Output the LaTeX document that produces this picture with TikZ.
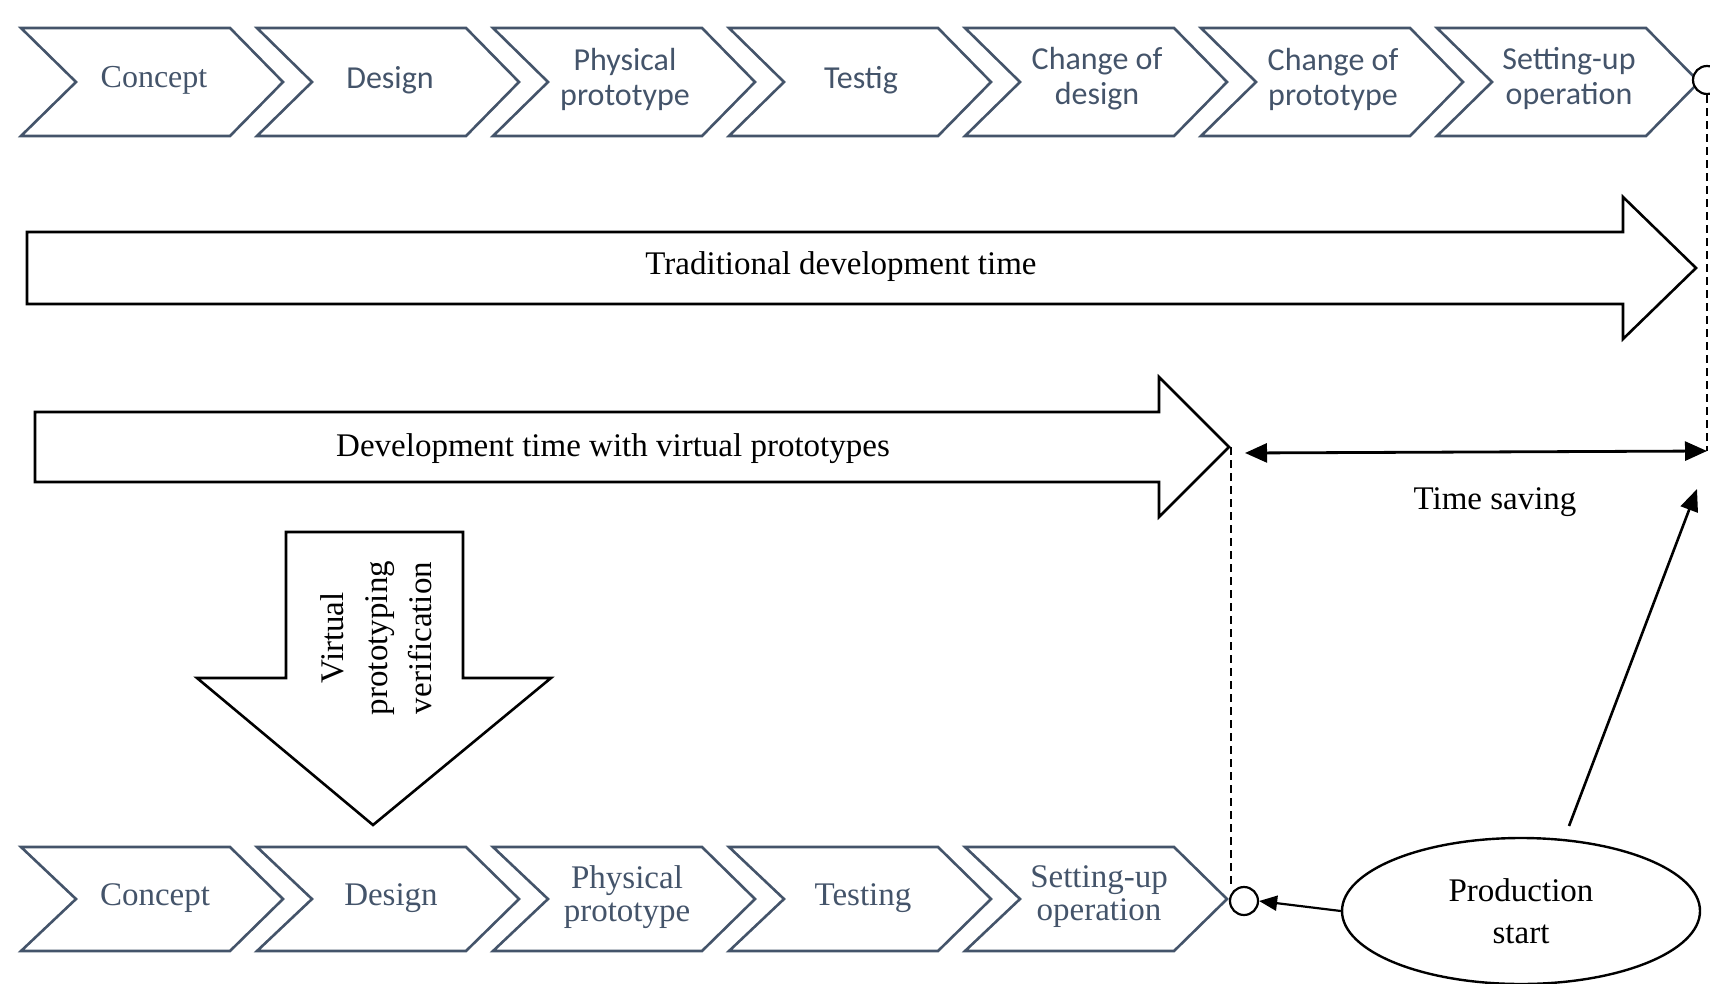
\documentclass[tikz,border=0pt]{standalone}
\usepackage{fontspec}
\setmainfont{Liberation Serif}
\newfontfamily\calib{Carlito}
\usetikzlibrary{arrows.meta,shapes.geometric}
\definecolor{slate}{RGB}{68,84,106}
\begin{document}
\begin{tikzpicture}[x=1pt,y=-1pt,
  chev/.style={draw=slate, line width=2.6pt, line join=miter},
  bigarrow/.style={draw=black, line width=2.6pt, fill=white, line join=miter},
  toplabel/.style={text=slate, font=\calib\fontsize{32}{35}\selectfont, align=center, inner sep=0},
  toplabelserif/.style={text=slate, font=\fontsize{32}{35}\selectfont, align=center, inner sep=0},
  botlabel/.style={text=slate, font=\fontsize{33}{33}\selectfont, align=center, inner sep=0},
  blabel/.style={text=black, font=\fontsize{33}{42}\selectfont, align=center, inner sep=0},
  dashline/.style={dash pattern=on 8pt off 5pt, line width=2.4pt},
  tiparrow/.style={-{Triangle[length=22pt,width=18pt]}, line width=2.6pt},
  endcircle/.style={circle, draw, line width=2.2pt, minimum size=28pt, inner sep=0pt, fill=white}
]
\useasboundingbox (0,0) rectangle (1710,984);

% ---------- top row of chevrons ----------
\foreach \i in {0,...,6}{
  \draw[chev] ({21+236*\i},28) -- ++(209,0) -- ++(53,54) -- ++(-53,54) -- ++(-209,0) -- ++(55,-54) -- cycle;
}
\node[toplabelserif] (t0) at ({21+133},80) {Concept};
\node[toplabel] (t1) at ({21+236*1+133},80) {Design};
\node[toplabel] (t2) at ({21+236*2+132},79) {Physical\\prototype};
\node[toplabel] (t3) at ({21+236*3+132},80) {Testig};
\node[toplabel] (t4) at ({21+236*4+132},79) {Change of\\design};
\node[toplabel] (t5) at ({21+236*5+132},79) {Change of\\prototype};
\node[toplabel] (t6) at ({21+236*6+132},79) {Setting-up\\operation};

\node[endcircle] (endA) at (1707,80) {};

% ---------- traditional development time ----------
\draw[bigarrow] (27,232) -- (1623,232) -- (1623,197) -- (1696,268) -- (1623,339) -- (1623,304) -- (27,304) -- cycle;
\node[blabel] (trad) at (841,267) {Traditional development time};

% ---------- development time with virtual prototypes ----------
\draw[bigarrow] (35,412) -- (1159,412) -- (1159,377) -- (1229,447) -- (1159,517) -- (1159,482) -- (35,482) -- cycle;
\coordinate (devtip) at (1231,447);
\node[blabel] (dev) at (613,449) {Development time with virtual prototypes};

% ---------- time saving ----------
\coordinate (tsL) at (1245,453);
\coordinate (tsR) at (1707,451);
\draw[{Triangle[length=22pt,width=19pt]}-{Triangle[length=22pt,width=19pt]}, line width=2.8pt] (tsL) -- (tsR);
\node[blabel] (tslabel) at (1495,502) {Time saving};
\draw[dashline] (endA.south) -- (tsR);

% ---------- virtual prototyping verification (down arrow) ----------
\draw[bigarrow] (286,532) -- (463,532) -- (463,678) -- (551,678) -- (373,825) -- (197,678) -- (286,678) -- cycle;
\node[text=black, font=\fontsize{33}{44}\selectfont, align=center, inner sep=0, rotate=90] (vtext) at (376,638) {Virtual\\prototyping\\verification};

% ---------- bottom row of chevrons ----------
\foreach \i in {0,...,4}{
  \draw[chev] ({21+236*\i},847) -- ++(209,0) -- ++(53,52) -- ++(-53,52) -- ++(-209,0) -- ++(55,-52) -- cycle;
}
\node[botlabel] (b0) at ({21+134},898) {Concept};
\node[botlabel] (b1) at ({21+236*1+134},898) {Design};
\node[botlabel] (b2) at ({21+236*2+134},897) {Physical\\prototype};
\node[botlabel] (b3) at ({21+236*3+134},898) {Testing};
\node[botlabel] (b4) at ({21+236*4+134},897) {Setting-up\\operation};

\node[endcircle] (endB) at (1244,901) {};
\draw[dashline] (devtip) -- (devtip |- endB.north);

% ---------- production start ----------
\node[ellipse, draw, line width=2.4pt, minimum width=358pt, minimum height=146pt, inner sep=0pt, align=center,
      font=\fontsize{33}{42}\selectfont] (prod) at (1521,911) {Production\\start};
\draw[-{Triangle[length=18pt,width=15pt]}, line width=2.2pt] (prod.west) -- (endB.east);
\coordinate (ps) at (1569,826);
\coordinate (pe) at (1697,489);
\draw[tiparrow] (ps) -- (pe);
\end{tikzpicture}
\end{document}
